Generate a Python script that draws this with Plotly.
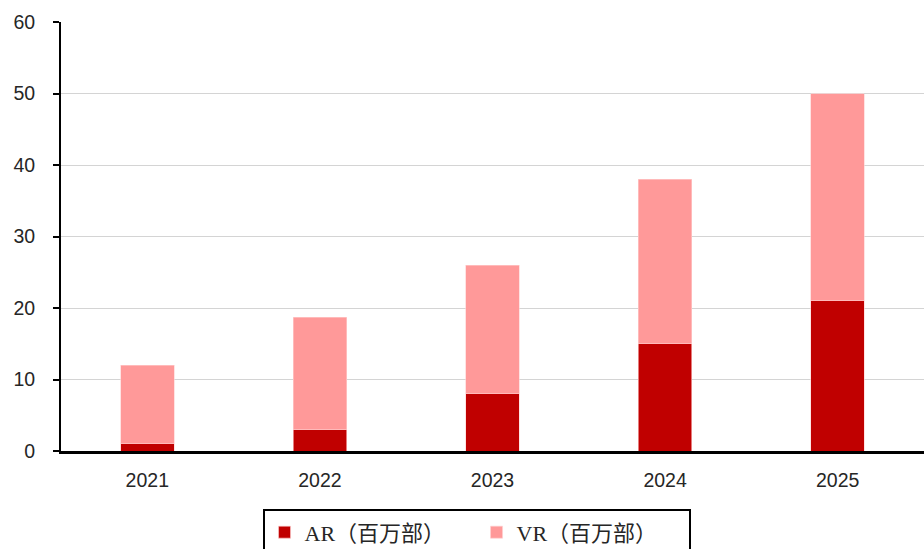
import plotly.graph_objects as go

years = ["2021", "2022", "2023", "2024", "2025"]
ar_units = [1, 3, 8, 15, 21]
vr_units = [11, 15.7, 18, 23, 29]
y_ticks = [0, 10, 20, 30, 40, 50, 60]

fig = go.Figure()
fig.add_trace(go.Bar(
    x=years, y=ar_units, name="AR（百万部）",
    marker=dict(color="#C00000", line=dict(color="#FFD0D0", width=0.6)),
))
fig.add_trace(go.Bar(
    x=years, y=vr_units, name="VR（百万部）",
    marker=dict(color="#FF9999", line=dict(color="#FFD0D0", width=0.6)),
))

fig.update_layout(
    barmode="stack",
    bargap=0.69,
    width=924, height=549,
    margin=dict(l=61, r=0, t=22, b=98, autoexpand=False),
    plot_bgcolor="white",
    paper_bgcolor="white",
    font=dict(family="Liberation Sans, Arial, sans-serif", size=19.5, color="#262626"),
    legend=dict(
        orientation="h",
        traceorder="normal",
        x=0.4815, xanchor="center",
        y=-0.136, yanchor="top",
        bordercolor="black", borderwidth=2,
        bgcolor="white",
        font=dict(family="Liberation Serif, Noto Sans CJK SC, serif", size=22, color="#262626"),
        entrywidth=167,
        itemwidth=30,
    ),
    showlegend=True,
)

fig.update_xaxes(
    showline=True, linecolor="black", linewidth=2.5,
    ticks="", ticklabelstandoff=10,
    showgrid=False,
)
fig.update_yaxes(
    range=[0, 60], tickvals=y_ticks,
    showline=True, linecolor="black", linewidth=2,
    ticks="outside", ticklen=6, tickwidth=2, tickcolor="black",
    ticklabelstandoff=14,
    showgrid=True, gridcolor="#D4D4D4", gridwidth=1.2,
    zeroline=False,
)

fig.write_html("out.html")
